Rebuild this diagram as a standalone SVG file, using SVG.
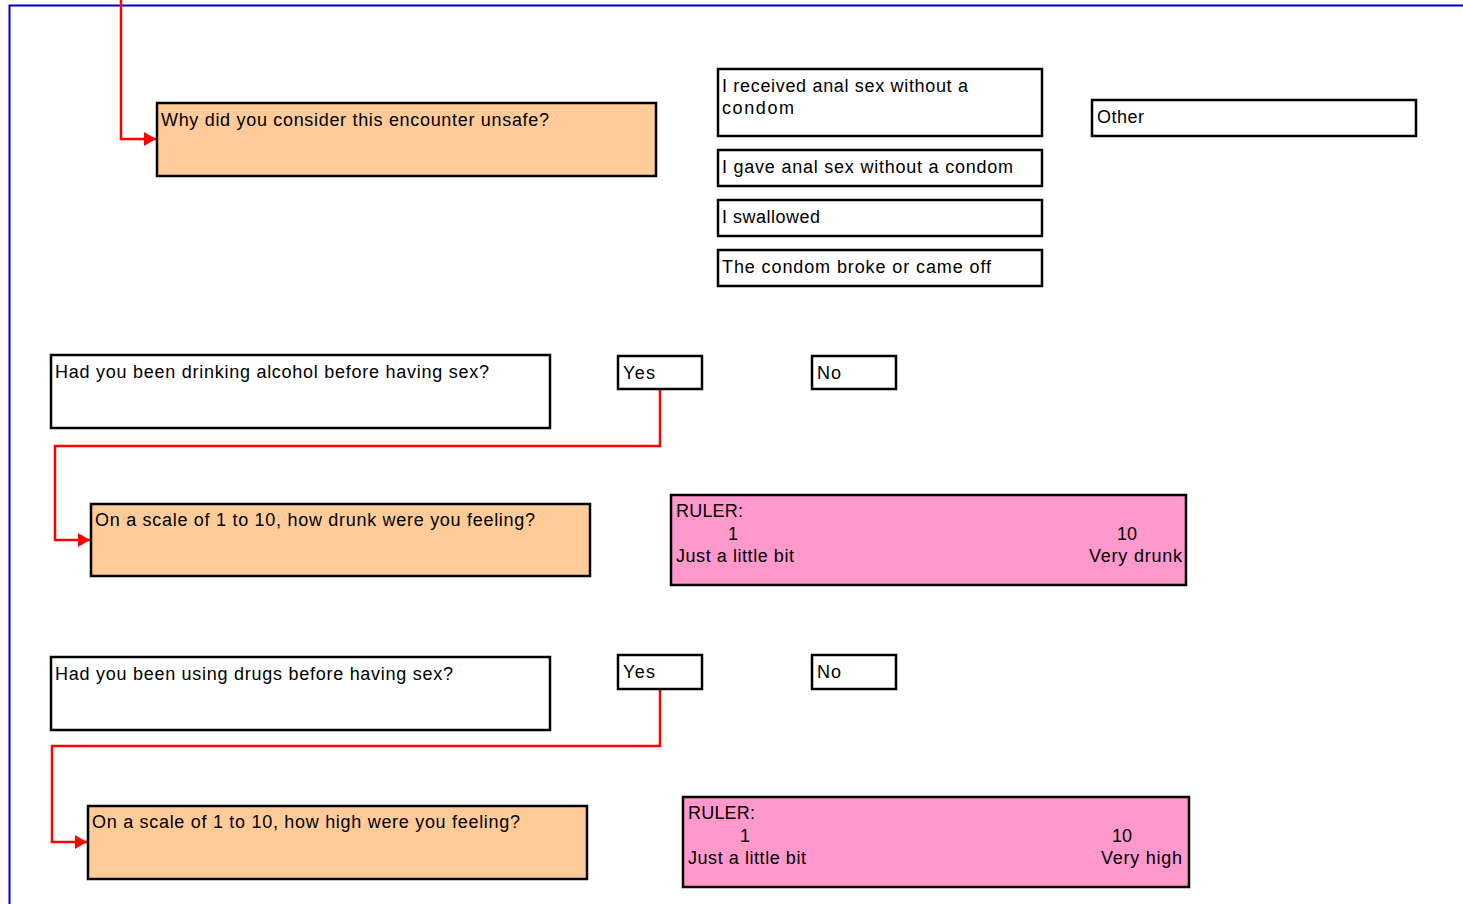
<svg xmlns="http://www.w3.org/2000/svg" width="1463" height="904" viewBox="0 0 1463 904">
  <style>
    .box { fill: #ffffff; stroke: #000000; stroke-width: 2.5; }
    .q { fill: #ffcc99; stroke: #000000; stroke-width: 2.5; }
    .ruler { fill: #ff99cc; stroke: #000000; stroke-width: 2.5; }
    text { font-family: "Liberation Sans", Arial, sans-serif; font-size: 18px; fill: #000000; }
    .end { text-anchor: end; }
    .mid { text-anchor: middle; }
    .link { fill: none; stroke: #ff0000; stroke-width: 2.5; }
  </style>
  <defs>
    <marker id="arrow" markerWidth="12" markerHeight="14" refX="12" refY="7" orient="auto" markerUnits="userSpaceOnUse">
      <path d="M0,0 L12,7 L0,14 Z" fill="#ff0000"/>
    </marker>
  </defs>

  <rect width="1463" height="904" fill="#ffffff"/>
  <!-- page frame -->
  <path d="M9.5,904 V5.5 H1463" fill="none" stroke="#0000cc" stroke-width="2"/>

  <g id="connectors">
    <path class="link" d="M121,0 V139 H156" marker-end="url(#arrow)"/>
    <path class="link" d="M660,390 V446 H55 V540 H90" marker-end="url(#arrow)"/>
    <path class="link" d="M660,690 V746 H52 V842 H87" marker-end="url(#arrow)"/>
  </g>

  <g id="q-unsafe">
    <rect class="q" x="157" y="103" width="499" height="73"/>
    <text x="161" y="126" textLength="388" lengthAdjust="spacing">Why did you consider this encounter unsafe?</text>
  </g>
  <g id="opt-received">
    <rect class="box" x="718" y="69" width="324" height="67"/>
    <text x="722" y="92" textLength="246" lengthAdjust="spacing">I received anal sex without a</text>
    <text x="722" y="114" textLength="72" lengthAdjust="spacing">condom</text>
  </g>
  <g id="opt-gave">
    <rect class="box" x="718" y="150" width="324" height="36"/>
    <text x="722" y="173" textLength="291" lengthAdjust="spacing">I gave anal sex without a condom</text>
  </g>
  <g id="opt-swallowed">
    <rect class="box" x="718" y="200" width="324" height="36"/>
    <text x="722" y="223" textLength="98" lengthAdjust="spacing">I swallowed</text>
  </g>
  <g id="opt-condom">
    <rect class="box" x="718" y="250" width="324" height="36"/>
    <text x="722" y="273" textLength="269" lengthAdjust="spacing">The condom broke or came off</text>
  </g>
  <g id="opt-other">
    <rect class="box" x="1092" y="100" width="324" height="36"/>
    <text x="1097" y="123" textLength="47" lengthAdjust="spacing">Other</text>
  </g>

  <g id="q-alcohol">
    <rect class="box" x="51" y="355" width="499" height="73"/>
    <text x="55" y="378" textLength="434" lengthAdjust="spacing">Had you been drinking alcohol before having sex?</text>
  </g>
  <g id="alcohol-yes">
    <rect class="box" x="618" y="356" width="84" height="33"/>
    <text x="623" y="379" textLength="32" lengthAdjust="spacing">Yes</text>
  </g>
  <g id="alcohol-no">
    <rect class="box" x="812" y="356" width="84" height="33"/>
    <text x="817" y="379" textLength="24" lengthAdjust="spacing">No</text>
  </g>
  <g id="q-drunk">
    <rect class="q" x="91" y="504" width="499" height="72"/>
    <text x="95" y="526" textLength="440" lengthAdjust="spacing">On a scale of 1 to 10, how drunk were you feeling?</text>
  </g>
  <g id="ruler-drunk">
    <rect class="ruler" x="671" y="495" width="515" height="90"/>
    <text x="676" y="517" textLength="67" lengthAdjust="spacing">RULER:</text>
    <text class="mid" x="733" y="540">1</text>
    <text class="mid" x="1127" y="540">10</text>
    <text x="676" y="562" textLength="118" lengthAdjust="spacing">Just a little bit</text>
    <text x="1089" y="562" textLength="93" lengthAdjust="spacing">Very drunk</text>
  </g>

  <g id="q-drugs">
    <rect class="box" x="51" y="657" width="499" height="73"/>
    <text x="55" y="680" textLength="398" lengthAdjust="spacing">Had you been using drugs before having sex?</text>
  </g>
  <g id="drugs-yes">
    <rect class="box" x="618" y="655" width="84" height="34"/>
    <text x="623" y="678" textLength="32" lengthAdjust="spacing">Yes</text>
  </g>
  <g id="drugs-no">
    <rect class="box" x="812" y="655" width="84" height="34"/>
    <text x="817" y="678" textLength="24" lengthAdjust="spacing">No</text>
  </g>
  <g id="q-high">
    <rect class="q" x="88" y="806" width="499" height="73"/>
    <text x="92" y="828" textLength="428" lengthAdjust="spacing">On a scale of 1 to 10, how high were you feeling?</text>
  </g>
  <g id="ruler-high">
    <rect class="ruler" x="683" y="797" width="506" height="90"/>
    <text x="688" y="819" textLength="67" lengthAdjust="spacing">RULER:</text>
    <text class="mid" x="745" y="842">1</text>
    <text class="mid" x="1122" y="842">10</text>
    <text x="688" y="864" textLength="118" lengthAdjust="spacing">Just a little bit</text>
    <text x="1101" y="864" textLength="81" lengthAdjust="spacing">Very high</text>
  </g>
</svg>
